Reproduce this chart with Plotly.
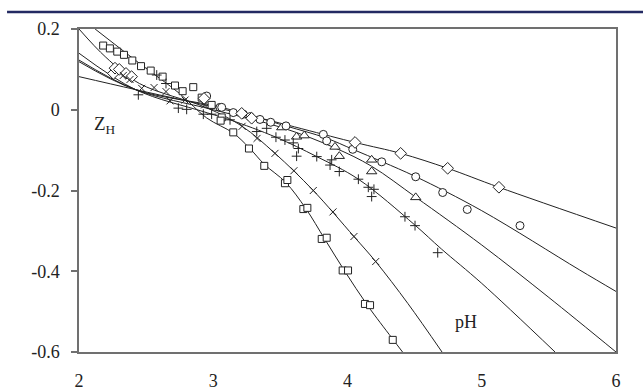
import plotly.graph_objects as go

# ---- measured points (pH, Z_H) ----
sq_x = [2.18, 2.23, 2.285, 2.335, 2.397, 2.462, 2.534, 2.623, 2.715, 2.772, 2.851, 2.914, 2.988,
        3.063, 3.055, 3.149, 3.266, 3.380, 3.534, 3.552, 3.671, 3.701, 3.808, 3.845, 3.964, 4.004,
        4.130, 4.168, 4.337]
sq_y = [0.159, 0.152, 0.144, 0.136, 0.122, 0.108, 0.097, 0.082, 0.060, 0.046, 0.056, 0.030, 0.012,
        -0.019, -0.027, -0.056, -0.096, -0.139, -0.182, -0.174, -0.246, -0.243, -0.320, -0.317,
        -0.398, -0.398, -0.481, -0.484, -0.570]

x_x = [2.33, 2.38, 2.467, 2.559, 2.648, 2.678, 2.790, 2.935, 3.215, 3.326, 3.460, 3.601, 3.745,
       3.892, 4.048, 4.210]
x_y = [0.085, 0.075, 0.053, 0.055, 0.045, 0.022, 0.024, 0.012, -0.041, -0.071, -0.108, -0.151,
       -0.200, -0.253, -0.314, -0.376]

pl_x = [2.442, 2.579, 2.648, 2.740, 2.802, 2.926, 2.988, 3.125, 3.324, 3.398, 3.467, 3.534, 3.596,
        3.634, 3.621, 3.771, 3.882, 3.870, 3.939, 4.081, 4.155, 4.197, 4.180, 4.428, 4.503, 4.672]
pl_y = [0.037, 0.086, 0.065, 0.004, 0.001, -0.011, -0.011, -0.025, -0.054, -0.046, -0.068, -0.075,
        -0.082, -0.096, -0.115, -0.116, -0.124, -0.137, -0.153, -0.172, -0.192, -0.197, -0.215,
        -0.265, -0.287, -0.354]

tr_x = [3.510, 3.621, 3.678, 3.907, 3.939, 4.180, 4.180, 4.508]
tr_y = [-0.044, -0.067, -0.064, -0.092, -0.115, -0.124, -0.153, -0.217]

ci_x = [2.951, 3.050, 3.063, 3.149, 3.224, 3.274, 3.348, 3.428, 3.542, 3.820, 3.845, 4.039, 4.255,
        4.508, 4.709, 4.892, 5.285]
ci_y = [0.034, 0.006, 0.006, -0.007, -0.011, -0.017, -0.024, -0.031, -0.040, -0.061, -0.077,
        -0.098, -0.129, -0.166, -0.205, -0.247, -0.287]

di_x = [2.256, 2.268, 2.300, 2.350, 2.392, 2.931, 3.212, 3.286, 4.056, 4.396, 4.746, 5.128]
di_y = [0.090, 0.103, 0.100, 0.090, 0.082, 0.028, -0.009, -0.021, -0.081, -0.108, -0.145, -0.192]

# ---- model curves ----
c_sq_x = [2.12, 2.45, 2.75, 2.95, 3.15, 3.27, 3.38, 3.54, 3.69, 3.83, 3.98, 4.15, 4.33, 4.41]
c_sq_y = [0.20, 0.115, 0.040, -0.020, -0.058, -0.095, -0.135, -0.180, -0.245, -0.320, -0.400,
          -0.485, -0.565, -0.60]
c_x_x = [2.00, 2.20, 2.45, 2.95, 3.215, 3.46, 3.745, 4.048, 4.21, 4.45, 4.704]
c_x_y = [0.20, 0.13, 0.065, 0.005, -0.041, -0.108, -0.200, -0.314, -0.376, -0.48, -0.60]
c_pl_x = [2.00, 2.42, 2.93, 3.125, 3.467, 3.771, 4.081, 4.50, 4.70, 5.00, 5.546]
c_pl_y = [0.140, 0.050, -0.005, -0.025, -0.068, -0.116, -0.172, -0.285, -0.345, -0.430, -0.60]
c_tr_x = [2.00, 2.42, 3.00, 3.51, 3.91, 4.18, 4.51, 5.00, 5.50, 6.00]
c_tr_y = [0.123, 0.050, 0.000, -0.044, -0.095, -0.140, -0.217, -0.335, -0.465, -0.60]
c_ci_x = [2.00, 2.42, 3.06, 3.54, 3.84, 4.04, 4.26, 4.51, 5.00, 5.73, 6.00]
c_ci_y = [0.119, 0.050, 0.006, -0.040, -0.070, -0.098, -0.129, -0.166, -0.250, -0.397, -0.450]
c_di_x = [2.00, 2.42, 3.22, 4.056, 4.396, 4.746, 5.128, 6.00]
c_di_y = [0.082, 0.050, -0.010, -0.081, -0.108, -0.145, -0.192, -0.293]

y_ticks = [0.2, 0.0, -0.2, -0.4, -0.6]
y_tick_text = ["0.2", "0", "-0.2", "-0.4", "-0.6"]
x_ticks = [2, 3, 4, 5, 6]

FONT = "Liberation Serif"
INK = "#222222"

fig = go.Figure()
for cx, cy in [(c_sq_x, c_sq_y), (c_x_x, c_x_y), (c_pl_x, c_pl_y),
               (c_tr_x, c_tr_y), (c_ci_x, c_ci_y), (c_di_x, c_di_y)]:
    fig.add_trace(go.Scatter(x=cx, y=cy, mode="lines", line=dict(color=INK, width=1, shape="spline"),
                             showlegend=False, hoverinfo="skip"))

def filled(sym, size):
    return dict(symbol=sym, size=size, color="white", line=dict(color=INK, width=1))

fig.add_trace(go.Scatter(x=sq_x, y=sq_y, mode="markers", marker=filled("square", 7), showlegend=False))
fig.add_trace(go.Scatter(x=tr_x, y=tr_y, mode="markers", marker=filled("triangle-up", 9), showlegend=False))
fig.add_trace(go.Scatter(x=ci_x, y=ci_y, mode="markers", marker=filled("circle", 8), showlegend=False))
fig.add_trace(go.Scatter(x=di_x, y=di_y, mode="markers", marker=filled("diamond", 9), showlegend=False))
fig.add_trace(go.Scatter(x=x_x, y=x_y, mode="markers",
                         marker=dict(symbol="x-thin-open", size=7, color=INK, line=dict(color=INK, width=1)),
                         showlegend=False))
fig.add_trace(go.Scatter(x=pl_x, y=pl_y, mode="markers",
                         marker=dict(symbol="cross-thin-open", size=7, color=INK, line=dict(color=INK, width=1)),
                         showlegend=False))

fig.add_annotation(x=2.19, y=-0.038, text="Z<sub>H</sub>", showarrow=False,
                   font=dict(family=FONT, size=19, color=INK))
fig.add_annotation(x=4.883, y=-0.526, text="pH", showarrow=False,
                   font=dict(family=FONT, size=18, color=INK))

# decorative journal rule at the top
fig.add_shape(type="line", xref="paper", yref="paper", x0=-0.134, x1=1.06, y0=1.0526, y1=1.0526,
              layer="above", line=dict(color="#232a62", width=2.5))

fig.update_layout(
    width=643, height=391,
    margin=dict(l=79, r=27, t=29, b=39),
    paper_bgcolor="white", plot_bgcolor="white",
    font=dict(family=FONT, size=18, color=INK),
    xaxis=dict(range=[2, 6], tickvals=x_ticks, ticks="", showgrid=False, zeroline=False,
               showline=True, mirror=True, linecolor="#707070", linewidth=1.5,
               ticklabelstandoff=12, automargin=False),
    yaxis=dict(range=[-0.6, 0.2], tickvals=y_ticks, ticktext=y_tick_text, ticks="outside",
               ticklen=6, tickcolor="#707070", tickwidth=1.5, showgrid=False, zeroline=False,
               showline=True, mirror=True, linecolor="#707070", linewidth=1.5,
               ticklabelstandoff=8, automargin=False),
)

# remove the browser's default page margin so the figure sits at the window origin
fig.write_html("out.html", config={"displayModeBar": False},
               post_script="document.body.style.margin='0';")
